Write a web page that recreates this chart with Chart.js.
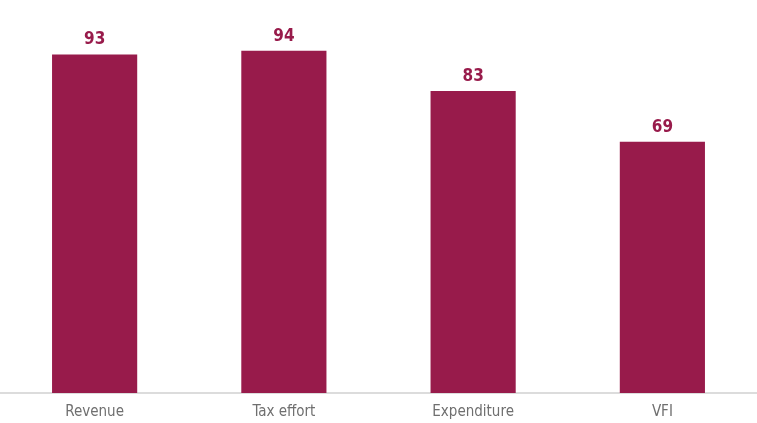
<!DOCTYPE html>
<html>
<head>
<meta charset="utf-8">
<script src="https://cdn.jsdelivr.net/npm/chart.js@4/dist/chart.umd.min.js"></script>
<style>
  html, body { margin: 0; padding: 0; background: #ffffff; }
  #wrap { width: 757px; height: 423px; position: relative; }
</style>
</head>
<body>
<div id="wrap"><canvas id="scoreChart"></canvas></div>
<script>
const categories = ['Revenue', 'Tax effort', 'Expenditure', 'VFI'];
const scores = [93, 94, 83, 69];

const barColor = '#981b4b';
const fontFamily = '"Liberation Sans Narrow", "DejaVu Sans Condensed", sans-serif';

// draws the number above each bar
const valueLabels = {
    id: 'valueLabels',
    afterDatasetsDraw(chart) {
        const ctx = chart.ctx;
        const meta = chart.getDatasetMeta(0);
        ctx.save();
        ctx.fillStyle = barColor;
        ctx.font = 'bold 17px ' + fontFamily;
        ctx.textAlign = 'center';
        ctx.textBaseline = 'bottom';
        meta.data.forEach((bar, i) => {
            ctx.fillText(scores[i], bar.x, bar.y - 6);
        });
        ctx.restore();
    }
};

new Chart(document.getElementById('scoreChart').getContext('2d'), {
    type: 'bar',
    data: {
        labels: categories,
        datasets: [{
            data: scores,
            backgroundColor: barColor,
            categoryPercentage: 0.45,
            barPercentage: 1.0
        }]
    },
    options: {
        responsive: true,
        maintainAspectRatio: false,
        animation: false,
        layout: { padding: { top: 29, left: -1, right: -1, bottom: 0 } },
        plugins: {
            legend: { display: false },
            tooltip: { enabled: false }
        },
        scales: {
            x: {
                grid: { display: false },
                border: { display: true, color: '#dcdcdc', width: 2 },
                ticks: {
                    color: '#6f6f6f',
                    font: { family: fontFamily, size: 15 },
                    padding: 2
                },
                afterFit(scale) { scale.height = 30; }
            },
            y: {
                display: false,
                min: 0,
                max: 100
            }
        }
    },
    plugins: [valueLabels]
});
</script>
</body>
</html>
